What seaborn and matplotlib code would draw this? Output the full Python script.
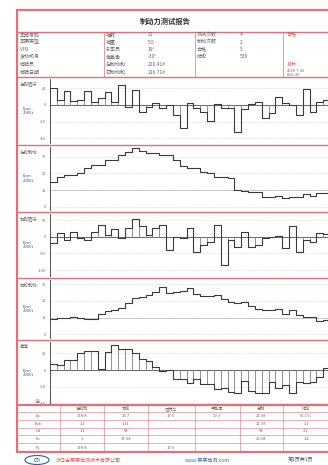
import numpy as np
import pandas as pd
import matplotlib
matplotlib.use('Agg')
import matplotlib.pyplot as plt
import seaborn as sns
from matplotlib.lines import Line2D
from matplotlib.patches import Ellipse

# ---------------- data ----------------
title = "制动力测试报告"
panel_names = ["左侧阻滞", "左轮制动", "右侧阻滞", "右轮制动", "差值"]
unit_label = "Fpm\n2000t"

p1_vals = [20, 6, 16.8, 4.8, 6, 16.8, 4, 8, 15.2, 4, 24, -2, 18, -8, -2, 2, -4, 0, -12, -27.2,
           2, -3.2, -8, -19.2, 0.8, -4, -4, -32.8, -4.8, 0.8, 4, -16, -10, 10, 2, 0, -12, 19.2, -8, 4, 6]
p2_vals = [15, 18, 19, 19, 20, 23.2, 25, 25, 28, 28, 31, 33, 35.4, 33.4, 32.2, 32, 31, 31, 28, 24.4,
           23.4, 23.4, 20.8, 20.2, 18, 18, 17.2, 10, 9.6, 9, 9, 6, 5.8, 6.4, 5.2, 5.6, 5.8, 7.6, 6.4, 8, 8.2]
p3_vals = [-18, 12, -10, 15, -5, -10, 15, 35, 5, 22, -5, 25, 52, 32, 5, 25, 35, -40, 0, -5,
           25, -45, -25, -15, 35, -85, -10, -30, 15, -30, -25, -5, 0, 2, -35, 32, -45, -10, -15, 10, 7]
p4_vals = [9, 9.6, 9.6, 10.4, 10, 9.2, 9.2, 12, 14, 14.4, 16, 18.6, 22, 22.6, 23.6, 25.2, 28.2, 24.6, 25.2, 26,
           28, 24, 22.8, 22.8, 23.6, 21, 19.6, 18.6, 19.2, 17.2, 15.2, 14.6, 14.6, 15.2, 12.2, 14.6, 11.6, 10.4, 10.4, 8, 8.8]
p5_vals = [7, 6, 12, 12, 20.8, 23.2, 23.2, 1, 22, 30, 25.2, 24.8, 20, 12.8, 11.2, 4, -0.8, 0, -11.2, -11.2,
           -16, -11.2, -16.8, -16.8, -23.2, -22, -26, -28, -12.8, -24.8, -28, -28, -14, -22, -18, -28, -14, -15.2, -14, -8, 2]
ticks_a = [20, 0, -20, -40]
ticks_b = [30, 20, 10, 0]
ticks_c = [50, 0, -50, -100]

info_col1 = ["车牌号码", "车辆类型", "VIN", "发动机号", "检验员", "检验日期"]
info_col2_lab = ["轴数", "轴重", "引车员", "偏差角", "左制动和", "右制动和"]
info_col2_val = ["11", "5.5", "19°", "-30°", "220.41#", "216.71#"]
info_col3_lab = ["测试次数", "制动次数", "合格", "结论"]
info_col3_val = ["4", "2", "5", "530"]

tbl_header = ["左轮制", "右轮", "阻滞比", "平衡率", "总制", "结论"]
tbl_rows = ["Fp", "Fpk", "Cd", "Fo", "Fy"]
tbl_cells = [["178.8", "23.7", "17.6", "20.3", "21.98", "65.1%"],
             ["1.1", "1.11", "", "", "11.78", "1.1"],
             ["1.1", "58", "", "", "58", "2.1"],
             ["1", "37.08", "", "", "25.58", "1.4"],
             ["178.8", "", "17.6", "", "", ""]]

# ---------------- figure ----------------
sns.set_theme(style='white')
plt.rcParams['font.family'] = ['Noto Sans CJK SC', 'DejaVu Sans']

W, H = 328, 465
fig = plt.figure(figsize=(W / 100, H / 100), dpi=100)
fig.patch.set_facecolor('white')

RED = '#e0707a'
GRAY = '#666666'


def fx(x): return x / W
def fy(y): return 1 - y / H


def hline(y, x0, x1, c=RED, lw=0.8):
    fig.add_artist(Line2D([fx(x0), fx(x1)], [fy(y), fy(y)], color=c, lw=lw))


def vline(x, y0, y1, c=RED, lw=0.8):
    fig.add_artist(Line2D([fx(x), fx(x)], [fy(y0), fy(y1)], color=c, lw=lw))


def txt(x, y, s, **kw):
    kw.setdefault('fontsize', 3.6)
    kw.setdefault('color', GRAY)
    kw.setdefault('va', 'center')
    fig.text(fx(x), fy(y), s, **kw)


# header frame
hline(10, 17, 330, lw=1.6)
hline(32, 17, 330, lw=1.0)
hline(77, 17, 330, lw=1.0)
vline(17, 10, 452, lw=1.6)
txt(165, 21, title, ha='center', fontsize=5.2, color='#333333', fontweight='bold')

rows_y = [35, 42, 49.5, 57, 64.5, 72]
for x in [104, 195, 283]:
    vline(x, 32, 77, lw=0.5)
for i, s in enumerate(info_col1):
    txt(20, rows_y[i], s)
for i, s in enumerate(info_col2_lab):
    txt(106, rows_y[i], s)
    txt(148, rows_y[i], info_col2_val[i])
for i, s in enumerate(info_col3_lab):
    txt(197, rows_y[i], s)
    txt(240, rows_y[i], info_col3_val[i])
txt(287, rows_y[0], "合格", color='#e05050')
txt(287, rows_y[4], "14秒", color='#e05050')
txt(287, 71, "2018-7-20", fontsize=2.8)
txt(287, 75.5, "8:52:30", fontsize=2.8)

# panels: (name, values, kind, top, bottom, zero_px, units_per_px, ticks)
panels = [
    (panel_names[0], p1_vals, 'bar', 79, 143, 105, 1.2, ticks_a),
    (panel_names[1], p2_vals, 'step', 147, 210, 206.7, 0.6, ticks_b),
    (panel_names[2], p3_vals, 'bar', 214, 276, 236.7, 3.0, ticks_c),
    (panel_names[3], p4_vals, 'step', 280, 338, 334.3, 0.6, ticks_b),
    (panel_names[4], p5_vals, 'bar', 342, 404, 370, 1.2, ticks_a),
]
seps = [145, 212, 278, 340]
for y in seps:
    hline(y, 17, 330, lw=1.0)

X0, X1 = 50, 330
for name, vals, kind, top, bot, zpx, upp, ticks in panels:
    ax = fig.add_axes([fx(X0), fy(bot), (X1 - X0) / W, (bot - top) / H])
    n = len(vals)
    idx = np.arange(n)
    if kind == 'bar':
        sns.barplot(x=idx, y=vals, fill=False, width=1.0, color='#8a8a8a',
                    linewidth=0.5, errorbar=None, ax=ax)
    xs = np.arange(n + 1) - 0.5
    ys = list(vals) + [vals[-1]]
    sns.lineplot(x=xs, y=ys, drawstyle='steps-post', color='#3a3a3a', lw=0.8, ax=ax)
    ax.set_xlim(-0.5, n - 0.5)
    ax.set_ylim((zpx - bot) * upp, (zpx - top) * upp)
    for t in ticks:
        if t == 0 and kind == 'bar':
            ax.axhline(0, color='#222222', lw=0.7, zorder=0.5)
        else:
            ax.axhline(t, color='#bbbbbb', lw=0.4, ls=':', zorder=0.5)
    if kind == 'step':
        ax.axhline(ticks[2], color='#aaaaaa', lw=0.4, zorder=0.5)
    ax.set_yticks(ticks)
    ax.set_yticklabels([str(t) for t in ticks])
    ax.set_xticks(np.arange(1.94, n - 0.5, 2.44))
    ax.tick_params(axis='x', direction='in', length=2.5, width=0.5, color='#aaaaaa',
                   labelbottom=False, pad=0)
    ax.tick_params(axis='y', direction='out', length=2, width=0.5, color='#333333',
                   labelsize=2.8, labelcolor=GRAY, pad=1)
    ax.set_xlabel('')
    ax.set_ylabel('')
    for s in ['top', 'right', 'bottom']:
        ax.spines[s].set_visible(False)
    ax.spines['left'].set_color('#333333')
    ax.spines['left'].set_linewidth(0.6)
    ax.patch.set_alpha(0)
    txt(20, top + 5, name, fontsize=3.2)
    txt(23, (top + bot) / 2, unit_label, fontsize=3.0, color='#3050b0', linespacing=1.2)

# bottom table
txt(35, 401, "注:", fontsize=3.4)
hline(405, 17, 330, lw=1.6)
hline(452, 17, 330, lw=1.6)
row_lines = [412, 420, 427.5, 435, 443]
for y in row_lines:
    hline(y, 17, 330, lw=0.4)
col_x = [60, 104, 148, 195, 240, 283]
for x in col_x:
    vline(x, 405, 452, lw=0.4)
centers = [82, 126, 171, 217, 261, 306]
for j, h in enumerate(tbl_header):
    txt(centers[j], 408.5, h, ha='center', fontsize=3.0)
row_c = [416, 423.7, 431.2, 439, 447.5]
for i, r in enumerate(tbl_rows):
    txt(38, row_c[i], r, ha='center', fontsize=3.0)
    for j, c in enumerate(tbl_cells[i]):
        if c:
            txt(centers[j], row_c[i], c, ha='center', fontsize=3.0)

# footer
fig.add_artist(Ellipse((fx(37), fy(460)), 24 / W, 9 / H, facecolor='none',
                       edgecolor='#3a5a9a', lw=0.8))
txt(37, 460, "CTI", ha='center', fontsize=3.0, color='#3a5a9a', fontweight='bold')
txt(56, 460, "浙江省某某检测技术有限公司", fontsize=3.6, color='#e05050')
txt(185, 460, "www.某某检测.com", fontsize=3.6, color='#4060c0')
txt(288, 460, "第1页共1页", fontsize=3.6, color='#555555')

fig.savefig('out.png', dpi=100, facecolor='white')
